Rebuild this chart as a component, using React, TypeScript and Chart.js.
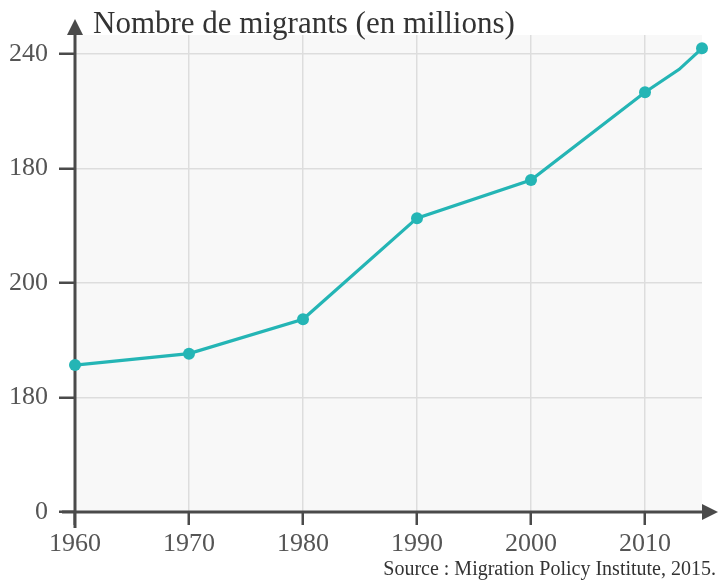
import React, { useEffect, useRef } from "react";
import { Chart, registerables } from "chart.js";

Chart.register(...registerables);

const years = [1960, 1970, 1980, 1990, 2000, 2010, 2013, 2015];
const migrants = [77, 83, 101, 154, 174, 220, 232, 243];
const pointSizes = [6, 6, 6, 6, 6, 6, 0, 6];
const xTickValues = [1960, 1970, 1980, 1990, 2000, 2010];
const yTickValues = [0, 60, 120, 180, 240];
const yTickLabels = ["0", "180", "200", "180", "240"];
const titleText = "Nombre de migrants (en millions)";
const sourceText = "Source : Migration Policy Institute, 2015.";

const W = 719;
const H = 583;
const FONT = "'Liberation Serif', 'Times New Roman', serif";

const decorPlugin = {
  id: "decor",
  beforeDraw(chart: any) {
    const { ctx, chartArea } = chart;
    ctx.save();
    ctx.fillStyle = "#f8f8f8";
    ctx.fillRect(chartArea.left, chartArea.top, chartArea.right - chartArea.left, chartArea.bottom - chartArea.top);
    ctx.restore();
  },
  beforeDatasetsDraw(chart: any) {
    const { ctx, chartArea } = chart;
    const x0 = chartArea.left;
    const y0 = chartArea.bottom;
    ctx.save();
    ctx.strokeStyle = "#4a4a4a";
    ctx.fillStyle = "#4a4a4a";
    ctx.lineWidth = 3;
    // y axis
    ctx.beginPath();
    ctx.moveTo(x0, y0 + 16);
    ctx.lineTo(x0, 30);
    ctx.stroke();
    ctx.beginPath();
    ctx.moveTo(x0, 19);
    ctx.lineTo(x0 - 8, 35);
    ctx.lineTo(x0 + 8, 35);
    ctx.closePath();
    ctx.fill();
    // x axis
    ctx.beginPath();
    ctx.moveTo(x0 - 13, y0);
    ctx.lineTo(706, y0);
    ctx.stroke();
    ctx.beginPath();
    ctx.moveTo(718, y0);
    ctx.lineTo(702, y0 - 8);
    ctx.lineTo(702, y0 + 8);
    ctx.closePath();
    ctx.fill();
    ctx.restore();
  },
  afterDraw(chart: any) {
    const { ctx } = chart;
    ctx.save();
    ctx.fillStyle = "#333333";
    ctx.textBaseline = "alphabetic";
    ctx.textAlign = "left";
    ctx.font = `31px ${FONT}`;
    ctx.fillText(titleText, 93, 33);
    ctx.textAlign = "right";
    ctx.font = `20px ${FONT}`;
    ctx.fillText(sourceText, 716, 575);
    ctx.restore();
  },
};

export default function App() {
  const ref = useRef<HTMLCanvasElement | null>(null);
  useEffect(() => {
    if (!ref.current) return;
    const chart = new Chart(ref.current, {
      type: "line",
      data: {
        datasets: [
          {
            data: years.map((y, i) => ({ x: y, y: migrants[i] })),
            borderColor: "#24b5b5",
            backgroundColor: "#24b5b5",
            borderWidth: 3.2,
            pointRadius: pointSizes,
            pointBorderWidth: 0,
            tension: 0,
            clip: false as any,
          },
        ],
      },
      options: {
        animation: false,
        responsive: false,
        layout: { padding: { left: 0, right: 17, top: 35, bottom: 0 } },
        plugins: { legend: { display: false }, tooltip: { enabled: false }, title: { display: false } },
        scales: {
          x: {
            type: "linear",
            min: 1960,
            max: 2015,
            afterBuildTicks: (s: any) => {
              s.ticks = xTickValues.map((v) => ({ value: v }));
            },
            afterFit: (s: any) => {
              s.height = 71;
            },
            border: { display: false },
            grid: { color: "#dddddd", lineWidth: 1.5, tickColor: "#4a4a4a", tickWidth: 2.5, tickLength: 13 },
            ticks: {
              callback: (v: any) => String(v),
              color: "#555555",
              font: { family: FONT, size: 26 },
              padding: 4,
              maxRotation: 0,
              autoSkip: false,
            },
          },
          y: {
            type: "linear",
            min: 0,
            max: 250,
            afterBuildTicks: (s: any) => {
              s.ticks = yTickValues.map((v) => ({ value: v }));
            },
            afterFit: (s: any) => {
              s.width = 75;
            },
            border: { display: false },
            grid: { color: "#dddddd", lineWidth: 1.5, tickColor: "#4a4a4a", tickWidth: 2.5, tickLength: 16 },
            ticks: {
              callback: (v: any) => yTickLabels[yTickValues.indexOf(Number(v))] ?? "",
              color: "#555555",
              font: { family: FONT, size: 26 },
              padding: 11,
              autoSkip: false,
            },
          },
        },
      },
      plugins: [decorPlugin],
    });
    return () => chart.destroy();
  }, []);
  return (
    <div style={{ position: "absolute", left: 0, top: 0, width: W, height: H }}>
      <canvas ref={ref} width={W} height={H} style={{ display: "block", width: W, height: H }} />
    </div>
  );
}
